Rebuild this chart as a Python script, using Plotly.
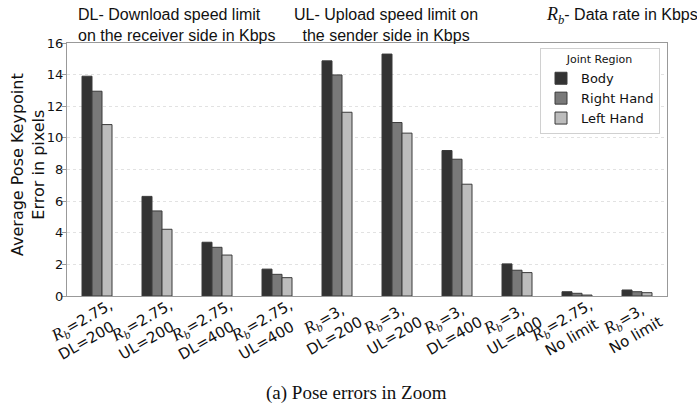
import plotly.graph_objects as go

categories = ["2.75,DL=200", "2.75,UL=200", "2.75,DL=400", "2.75,UL=400",
              "3,DL=200", "3,UL=200", "3,DL=400", "3,UL=400",
              "2.75,No limit", "3,No limit"]
rb_values = ["2.75", "2.75", "2.75", "2.75", "3", "3", "3", "3", "2.75", "3"]
limits = ["DL=200", "UL=200", "DL=400", "UL=400", "DL=200", "UL=200", "DL=400", "UL=400", "No limit", "No limit"]

body = [13.9, 6.3, 3.4, 1.7, 14.87, 15.3, 9.2, 2.03, 0.27, 0.38]
right_hand = [12.95, 5.38, 3.08, 1.37, 13.98, 10.97, 8.65, 1.63, 0.17, 0.27]
left_hand = [10.84, 4.22, 2.59, 1.16, 11.62, 10.3, 7.07, 1.48, 0.06, 0.21]

series_names = ["Body", "Right Hand", "Left Hand"]
series_colors = ["#333333", "#797979", "#bcbcbc"]
y_ticks = [0, 2, 4, 6, 8, 10, 12, 14, 16]

RB = ('<span style="font-family:\'Liberation Serif\',serif;font-size:17px"><i>R</i>'
      '<sub><i>b</i></sub></span>')
RB_ANN = ('<span style="font-family:\'Liberation Serif\',serif;font-size:18px"><i>R</i>'
          '<sub><i>b</i></sub></span>')
NB = "\u00a0"


def tick_label(rb, lim):
    # pad the shorter line so the two lines look centred on each other
    line1 = f"{RB}={rb},"
    line2 = lim
    if rb == "3":
        line1 += NB * 2
    else:
        line2 += NB * (1 if lim == "No limit" else 2)
    return f"{line1}<br>{line2}"


tick_text = [tick_label(r, l) for r, l in zip(rb_values, limits)]

fig = go.Figure()
for name, vals, col in zip(series_names, [body, right_hand, left_hand], series_colors):
    fig.add_trace(go.Bar(
        x=list(range(len(categories))), y=vals, name=name,
        marker=dict(color=col, line=dict(color="#3a3a3a", width=1)),
    ))

ann_font = dict(family="Liberation Sans, Arial, sans-serif", size=16, color="#111111")

L, R, T, B = 67, 30, 43, 109
PW, PH = 697 - L - R, 405 - T - B


def px_x(px):
    return (px - L) / PW


def px_y(py):
    return (405 - B - py) / PH


fig.update_layout(
    width=697, height=405,
    margin=dict(l=L, r=R, t=T, b=B, autoexpand=False),
    paper_bgcolor="white", plot_bgcolor="white",
    barmode="group", bargap=0.5, bargroupgap=0,
    font=dict(family="DejaVu Sans, sans-serif", size=14, color="#111111"),
    showlegend=True,
    legend=dict(
        x=px_x(540), y=px_y(48), xanchor="left", yanchor="top",
        bordercolor="#d0d0d0", borderwidth=1, bgcolor="white",
        title=dict(text="Joint Region", side="top center", font=dict(size=11)),
        font=dict(size=13), tracegroupgap=0, itemwidth=30,
    ),
    xaxis=dict(
        range=[-0.5, 9.5], tickmode="array", automargin=False,
        tickvals=list(range(len(categories))), ticktext=tick_text,
        tickangle=-30, tickfont=dict(size=15, family="DejaVu Sans, sans-serif"),
        ticklabelshift=13, ticklabelstandoff=-6,
        showline=True, linecolor="#999999", linewidth=1, mirror=True,
        showgrid=False, zeroline=False, ticks="",
    ),
    yaxis=dict(
        range=[0, 16], tickvals=y_ticks, automargin=False,
        tickfont=dict(size=13), ticklabelstandoff=-4,
        showline=True, linecolor="#999999", linewidth=1, mirror=True,
        ticks="outside", ticklen=4, tickcolor="#999999",
        showgrid=True, gridcolor="#e2e2e2", griddash="dot", zeroline=False,
    ),
    annotations=[
        dict(text="Average Pose Keypoint<br>Error in pixels",
             xref="paper", yref="paper", x=px_x(28), y=px_y(165), xanchor="center", yanchor="middle",
             textangle=-90, align="center", showarrow=False,
             font=dict(family="DejaVu Sans, sans-serif", size=16, color="#111111")),
        dict(text="DL- Download speed limit<br>on the receiver side in Kbps",
             xref="paper", yref="paper", x=px_x(76), y=px_y(25), xanchor="left", yanchor="middle",
             align="left", showarrow=False, font=ann_font),
        dict(text="UL- Upload speed limit on<br>the sender side in Kbps",
             xref="paper", yref="paper", x=px_x(386), y=px_y(25), xanchor="center", yanchor="middle",
             align="center", showarrow=False, font=ann_font),
        dict(text=f"{RB_ANN}- Data rate in Kbps",
             xref="paper", yref="paper", x=px_x(544), y=px_y(16), xanchor="left", yanchor="middle",
             align="left", showarrow=False, font=ann_font),
        dict(text="(a) Pose errors in Zoom",
             xref="paper", yref="paper", x=px_x(356), y=px_y(393),
             xanchor="center", yanchor="middle", showarrow=False,
             font=dict(family="Liberation Serif, Times New Roman, serif", size=19, color="#111111")),
    ],
)

fig.write_html("out.html", config={"displayModeBar": False},
               post_script="document.body.style.margin='0';document.body.style.overflow='hidden';")
